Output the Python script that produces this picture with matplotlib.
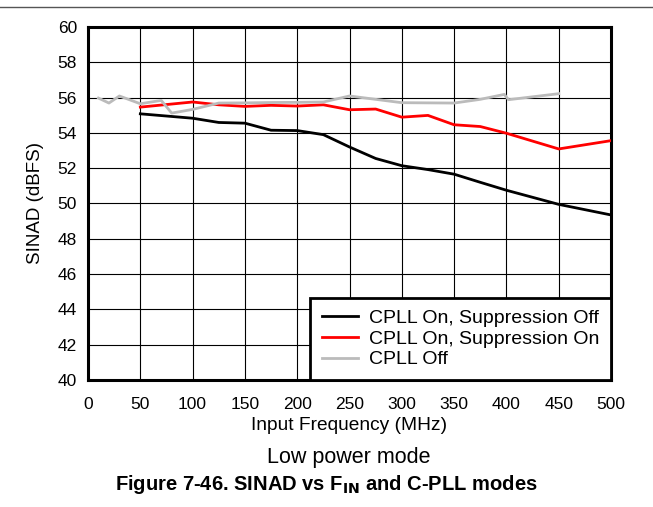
import matplotlib.pyplot as plt
from matplotlib.lines import Line2D

plt.rcParams['font.family'] = ['Liberation Sans', 'DejaVu Sans']

# SINAD vs input frequency, low power mode
freq_on = [50, 100, 125, 150, 175, 200, 225, 250, 275, 300, 325, 350, 375, 400, 450, 500]
sinad_supp_off = [55.08, 54.83, 54.59, 54.55, 54.15, 54.13, 53.90, 53.20, 52.55, 52.14, 51.92,
                  51.66, 51.20, 50.75, 49.95, 49.35]
sinad_supp_on = [55.46, 55.75, 55.59, 55.50, 55.56, 55.52, 55.59, 55.31, 55.35, 54.89, 54.99,
                 54.46, 54.36, 53.98, 53.09, 53.56]

freq_off = [10, 20, 30, 50, 70, 80, 100, 125, 150, 175, 200, 225, 250, 300, 350, 375, 398, 402, 450]
sinad_cpll_off = [55.97, 55.69, 56.09, 55.65, 55.84, 55.12, 55.33, 55.69, 55.70, 55.72, 55.73,
                  55.75, 56.09, 55.71, 55.69, 55.90, 56.18, 55.88, 56.22]

series_labels = ['CPLL On, Suppression Off', 'CPLL On, Suppression On', 'CPLL Off']
series_colors = ['black', '#ff0000', '#bbbbbb']

fig = plt.figure(figsize=(6.53, 5.07), dpi=100)
ax = fig.add_axes([0.1348, 0.2505, 0.8009, 0.6963])

ax.plot(freq_on, sinad_supp_off, color=series_colors[0], lw=2, label=series_labels[0], zorder=3)
ax.plot(freq_on, sinad_supp_on, color=series_colors[1], lw=2, label=series_labels[1], zorder=3)
ax.plot(freq_off, sinad_cpll_off, color=series_colors[2], lw=2, label=series_labels[2], zorder=3)

ax.set_xlim(0, 500)
ax.set_ylim(40, 60)
ax.set_xticks(range(0, 501, 50))
ax.set_yticks(range(40, 61, 2))
ax.grid(True, color='black', lw=0.8)
ax.tick_params(labelsize=12.5, length=0)
ax.tick_params(axis='x', pad=12)
ax.tick_params(axis='y', pad=8)
for s in ax.spines.values():
    s.set_linewidth(2.2)

ax.set_xlabel('Input Frequency (MHz)', fontsize=13.8, labelpad=4)
ax.set_ylabel('SINAD (dBFS)', fontsize=13.5, labelpad=10)

leg = ax.legend(loc='lower right', fontsize=14, fancybox=False, framealpha=1,
                edgecolor='black', borderaxespad=0, handlelength=1.85, handletextpad=0.57,
                labelspacing=0.15, borderpad=0.6)
leg.get_frame().set_linewidth(2)

fig.text(0.5335, 0.097, 'Low power mode', ha='center', va='center', fontsize=15.5)
fig.text(0.5, 0.044, r'Figure 7-46. SINAD vs F$_{\mathbf{IN}}$ and C-PLL modes',
         ha='center', va='center', fontsize=14.5, fontweight='bold')

# rule across the top of the page
fig.add_artist(Line2D([0, 1], [0.986, 0.986], color='#555555', lw=1, transform=fig.transFigure))

fig.savefig('out.png', dpi=100)
